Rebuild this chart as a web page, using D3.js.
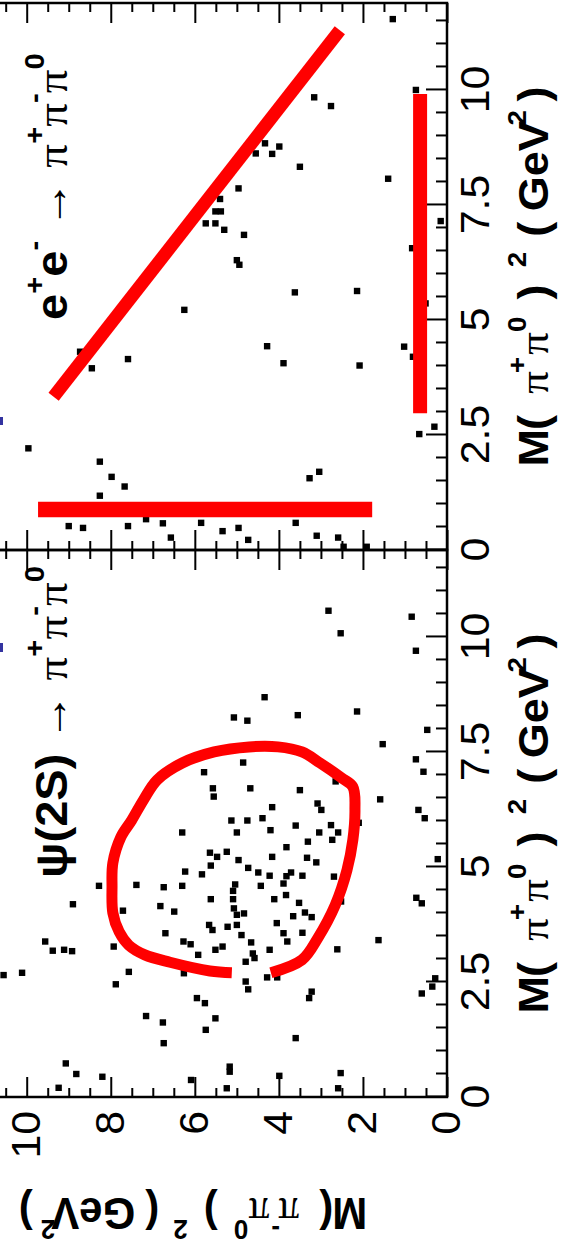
<!DOCTYPE html>
<html><head><meta charset="utf-8">
<script src="https://cdn.jsdelivr.net/npm/d3@7"></script>
<style>html,body{margin:0;padding:0;background:#fff}svg{display:block}</style>
</head><body>
<svg id="c" width="561" height="1246"></svg>
<script>
// ---------------- data ----------------
const xTicks = [0, 2.5, 5, 7.5, 10];
const xTickLabels = ["0", "2.5", "5", "7.5", "10"];
const yTicks = [0, 2, 4, 6, 8, 10];
const yTickLabels = ["0", "2", "4", "6", "8", "10"];
const xDomain = [0, 11.89];
const yDomain = [0, 12];

// psi(2S) -> pi+ pi- pi0 events: M(pi+pi0)^2 , M(pi-pi0)^2
const psiX = [10.57,10.44,10.08,9.70,8.69,8.25,8.18,8.30,8.38,7.98, 7.67,7.34,7.07,7.27,7.06,6.86,6.71,6.53,6.71,6.67,
  6.47,6.38,6.24,6.30,6.24,6.06,6.01,6.01,6.06,5.80, 5.75,5.90,5.91,5.75,5.75,5.59,5.96,5.75,5.55,5.43,
  5.31,5.22,5.33,5.03,5.15,5.22,5.20,5.10,5.17,4.98, 4.88,4.81,4.80,4.88,4.81,4.64,4.79,4.84,4.90,4.61,
  4.56,4.59,4.59,4.62,4.48,4.59,4.39,4.30,4.30,4.30, 4.22,4.33,4.21,4.25,4.19,4.15,4.03,4.05,4.10,3.96,
  3.99,3.93,4.01,3.91,3.74,3.63,3.70,3.74,3.52,3.78, 3.56,3.36,3.56,3.38,3.57,3.41,3.38,3.18,3.20,3.17,
  3.27,3.38,3.32,3.20,3.27,3.09,3.12,2.94,3.02,3.20, 3.21,2.72,2.45,2.69,2.51,2.34,2.60,2.60,2.29,2.15,
  2.25,2.58,2.40,2.65,2.70,2.15,2.04,1.76,1.62,1.71, 1.46,1.17,1.28,0.73,0.50,0.44,0.20,0.37,0.66,0.55,
  0.19,0.46,0.52,0.19];
const psiY = [2.82,0.84,2.53,0.74,4.34,5.07,4.75,3.55,2.14,0.47, 1.53,0.74,0.56,4.85,5.78,2.65,5.57,5.55,4.68,3.50,
  1.59,3.08,2.99,4.16,0.68,0.53,5.13,4.75,4.39,4.20, 5.00,3.60,2.76,3.04,2.59,2.73,2.10,6.30,3.31,3.82,
  5.64,5.47,5.24,5.62,4.96,4.16,3.33,3.11,0.22,4.73, 4.49,4.22,3.82,3.71,3.44,3.89,2.69,5.83,6.23,7.39,
  6.74,6.30,8.28,5.04,5.09,4.43,3.83,4.11,5.62,5.09, 3.52,0.73,0.60,2.52,8.90,6.82,6.49,7.71,5.07,5.00,
  4.83,3.66,3.38,3.22,5.66,5.58,5.22,5.00,4.89,4.05, 6.70,4.66,3.89,3.80,3.44,1.63,9.56,9.38,9.11,8.92,
  7.93,6.27,6.10,5.51,5.34,5.92,4.62,4.79,4.58,4.22, 2.61,7.57,7.88,6.26,4.79,4.73,4.28,4.04,3.22,3.28,
  0.60,0.28,0.35,10.55,10.11,5.95,5.76,7.16,6.76,5.51, 5.74,6.74,3.60,9.07,8.82,8.20,9.24,6.09,5.17,5.17,
  5.24,3.99,2.53,2.59];

// e+e- -> pi+ pi- pi0 events
const eeX = [11.54,9.84,9.65,10.0,8.84,8.77,8.62,8.61,8.33,8.07,7.86,7.63,7.36,7.36,7.10,7.10,6.96,6.85,7.15,6.56,
  6.30,6.20,5.60,5.63,5.22,5.36,4.43,4.42,4.20,4.31,3.95,4.15,4.06,4.01,2.68,2.52,2.21,1.92,1.59,1.38,
  1.18,1.56,1.70,0.52,0.48,0.52,0.67,0.58,0.59,0.27,0.41,0.48,0.22,0.59,0.31,0.27,0.07,0.07];
const eeY = [1.29,3.16,2.76,0.74,4.33,3.99,4.55,4.16,3.50,1.40,4.96,5.40,5.51,5.38,5.74,5.51,5.30,4.83,0.15,0.83,
  5.00,4.94,3.62,2.14,6.25,0.51,4.28,1.02,0.81,8.73,8.45,7.59,3.89,2.08,0.30,0.66,9.96,8.26,7.98,7.67,
  8.26,3.27,3.04,9.00,8.66,7.59,7.16,6.76,5.85,6.57,5.34,4.96,4.73,3.60,3.10,2.59,2.46,1.91];

// hand-drawn red annotations (data coordinates)
const loopX = [2.70,2.98,3.46,4.17,4.93,5.59,6.24,6.74,6.93,7.26,7.50,7.61,7.61,7.50,7.26,6.89,6.46,6.02,5.65,5.09,4.57,4.00,3.59,3.30,3.09,2.93,2.74,2.70];
const loopY = [4.19,3.45,3.07,2.66,2.38,2.24,2.19,2.24,2.50,3.02,3.45,4.02,4.71,5.54,6.30,6.90,7.22,7.50,7.76,7.95,7.97,7.95,7.80,7.57,7.19,6.59,5.64,5.12];
const diagX = [11.30, 3.33], diagY = [2.55, 9.36];
const vbarX = [9.91, 2.97], vbarY = [0.64, 0.64];
const hbarX = [0.88, 0.88], hbarY = [9.73, 1.78];

// ---------------- drawing ----------------
const SANS = "'Liberation Sans', Arial, Helvetica, sans-serif";
const SERIF = "'Liberation Serif', 'DejaVu Serif', 'Times New Roman', serif";
const STRETCH = 1.07;

const svg = d3.select("#c");
// the chart is drawn in its own (landscape) frame and turned a quarter turn
const g = svg.append("g").attr("transform", "translate(0,1246) rotate(-90)");

const Ybot = 447;
const y = d3.scaleLinear().domain(yDomain).range([Ybot, Ybot - 42.03 * 12]);
const panels = [
  {X0: 149, X1: 696, xs: psiX, ys: psiY, name: "psi"},
  {X0: 696, X1: 1243, xs: eeX, ys: eeY, name: "ee"}
];
panels.forEach(p => { p.x = d3.scaleLinear().domain(xDomain).range([p.X0, p.X1]); });

const minorX = d3.range(0, 11.9, 0.5).filter(v => !xTicks.includes(v));
const minorY = d3.range(0, 12.01, 0.5).filter(v => !yTicks.includes(v));

function styleAxis(sel) {
  sel.select(".domain").remove();
  sel.selectAll(".tick line").attr("stroke", "#000").attr("stroke-width", 2);
  sel.selectAll(".tick text").attr("font-family", SANS).attr("font-size", 40).attr("fill", "#000")
    .attr("transform", `scale(${STRETCH},1)`);
}

panels.forEach((p, i) => {
  // frame
  g.append("rect").attr("x", p.X0).attr("y", y(12)).attr("width", p.X1 - p.X0).attr("height", Ybot - y(12))
    .attr("fill", "none").attr("stroke", "#000").attr("stroke-width", 2.5);
  // x axis (bottom): major with labels, minor
  g.append("g").attr("transform", `translate(0,${Ybot})`)
    .call(d3.axisBottom(p.x).tickValues(xTicks).tickFormat((d, k) => xTickLabels[k]).tickSizeInner(-21).tickSizeOuter(0).tickPadding(14))
    .call(styleAxis);
  g.append("g").attr("transform", `translate(0,${Ybot})`)
    .call(d3.axisBottom(p.x).tickValues(minorX).tickFormat("").tickSizeInner(-11).tickSizeOuter(0))
    .call(styleAxis);
  // y axis left
  const left = d3.axisLeft(y).tickValues(yTicks).tickSizeInner(-20).tickSizeOuter(0).tickPadding(13)
    .tickFormat((d, k) => i === 0 ? yTickLabels[k] : "");
  g.append("g").attr("transform", `translate(${p.X0},0)`).call(left).call(styleAxis);
  g.append("g").attr("transform", `translate(${p.X0},0)`)
    .call(d3.axisLeft(y).tickValues(minorY).tickFormat("").tickSizeInner(-9).tickSizeOuter(0)).call(styleAxis);
  // y axis right (ticks only)
  g.append("g").attr("transform", `translate(${p.X1},0)`)
    .call(d3.axisRight(y).tickValues(yTicks).tickFormat("").tickSizeInner(-20).tickSizeOuter(0)).call(styleAxis);
  g.append("g").attr("transform", `translate(${p.X1},0)`)
    .call(d3.axisRight(y).tickValues(minorY).tickFormat("").tickSizeInner(-9).tickSizeOuter(0)).call(styleAxis);

  // events
  const pts = p.xs.map((v, k) => [v, p.ys[k]]);
  g.append("g").selectAll("rect").data(pts).join("rect")
    .attr("x", d => p.x(d[0]) - 3.2).attr("y", d => y(d[1]) - 3.2)
    .attr("width", 6.4).attr("height", 6.4).attr("fill", "#000");
});

// rich text helper
function rich(parent, X, Y, segs, o) {
  const grp = parent.append("g").attr("transform", `translate(${X},${Y}) scale(${STRETCH},1)` + (o.rot ? ` rotate(${o.rot})` : ""));
  const t = grp.append("text").attr("font-family", SANS).attr("font-size", o.size)
    .attr("font-weight", o.weight || "normal").attr("text-anchor", o.anchor || "start").attr("fill", "#000");
  let cur = 0;
  segs.forEach(s => {
    const sp = t.append("tspan").text(s.t);
    const off = s.sup ? -o.size * (o.raise || 0.53) : 0;
    const dyv = off - cur; cur = off;
    if (dyv) sp.attr("dy", dyv);
    if (s.dx) sp.attr("dx", s.dx);
    if (s.sup) sp.attr("font-size", o.size * 0.62);
    if (s.pi) sp.attr("font-family", SERIF).attr("font-weight", "normal");
    if (s.thin) sp.attr("font-weight", "normal");
    if (s.fs) sp.attr("font-size", s.fs);
  });
  return t;
}

function massTitle(sign) {
  return [{t: "M"}, {t: "(", dx: -1}, {t: "π", pi: 1, dx: 20}, {t: sign, sup: 1, dx: -2}, {t: "π", pi: 1, dx: 2},
    {t: "0", sup: 1}, {t: ")", dx: 16}, {t: "2", sup: 1, dx: 16}, {t: "(", dx: 14}, {t: "GeV", dx: 10},
    {t: "2", sup: 1, dx: -4}, {t: ")", dx: 8}];
}
panels.forEach(p => {
  rich(g, (p.X0 + p.X1) / 2, 548, massTitle("+"), {size: 42, weight: "bold", anchor: "middle"});
});
rich(g, 48, 193, massTitle("-"), {size: 42, weight: "bold", anchor: "middle", rot: -90, raise: 0.48});

// panel labels
rich(g, 926, 67, [{t: "e"}, {t: "+", sup: 1}, {t: "e"}, {t: "-", sup: 1}, {t: " → ", thin: 1},
  {t: "π", pi: 1}, {t: "+", sup: 1}, {t: "π", pi: 1}, {t: "-", sup: 1}, {t: "π", pi: 1}, {t: "0", sup: 1}],
  {size: 44, weight: "bold"});
rich(g, 368, 67, [{t: "ψ(2S)"}, {t: " → ", thin: 1},
  {t: "π", pi: 1}, {t: "+", sup: 1}, {t: "π", pi: 1}, {t: "-", sup: 1}, {t: "π", pi: 1}, {t: "0", sup: 1}],
  {size: 44, weight: "bold"});

// red hand-drawn marks
const lineFor = (sx) => d3.line().x(d => sx(d[0])).y(d => y(d[1]));
const psiP = panels[0], eeP = panels[1];
g.append("path").datum(loopX.map((v, k) => [v, loopY[k]]))
  .attr("d", lineFor(psiP.x).curve(d3.curveCatmullRom.alpha(0.5)))
  .attr("fill", "none").attr("stroke", "#ff0000").attr("stroke-width", 11);
g.append("path").datum(diagX.map((v, k) => [v, diagY[k]])).attr("d", lineFor(eeP.x))
  .attr("stroke", "#ff0000").attr("stroke-width", 13).attr("fill", "none");
g.append("path").datum(vbarX.map((v, k) => [v, vbarY[k]])).attr("d", lineFor(eeP.x))
  .attr("stroke", "#ff0000").attr("stroke-width", 14).attr("fill", "none");
g.append("path").datum(hbarX.map((v, k) => [v, hbarY[k]])).attr("d", lineFor(eeP.x))
  .attr("stroke", "#ff0000").attr("stroke-width", 15.5).attr("fill", "none");

// cropped blue fragments at the edge
g.append("rect").attr("x", 821).attr("y", 0).attr("width", 8).attr("height", 3).attr("fill", "#3333a0");
g.append("rect").attr("x", 594).attr("y", 0).attr("width", 9).attr("height", 3).attr("fill", "#3333a0");
</script>
</body></html>
